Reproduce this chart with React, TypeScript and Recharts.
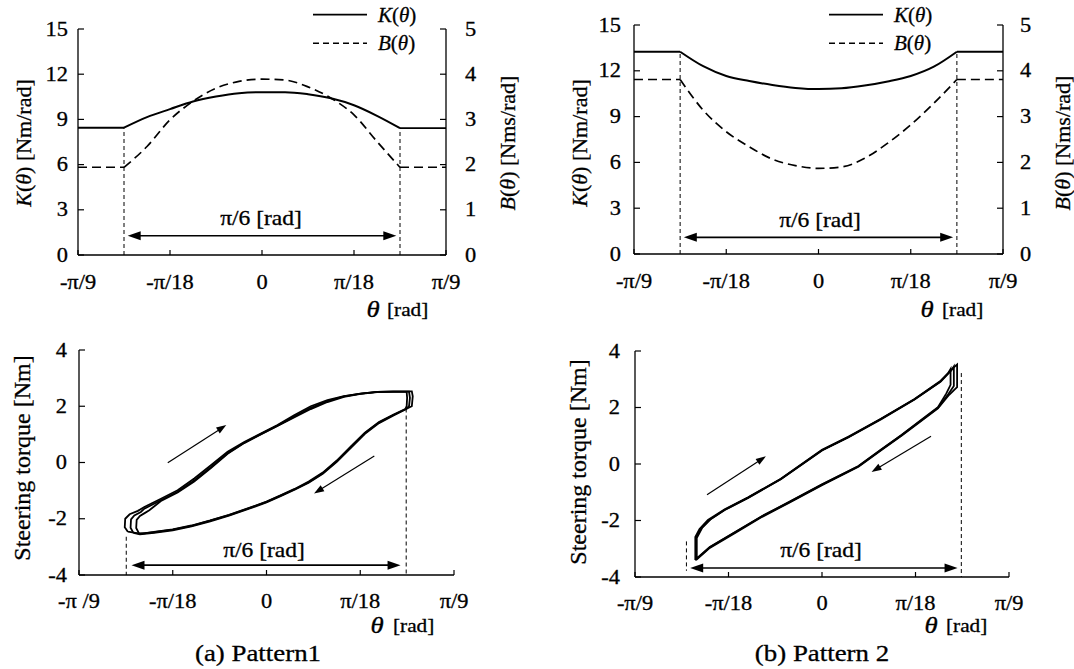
import React from "react";
import { ComposedChart, Line, XAxis, YAxis, ReferenceLine, Legend } from "recharts";

const FONT = "Liberation Serif, Times New Roman, Times, serif";
const SX = 1.12;

// axis ticks
const thetaTicks = [-20, -10, 0, 10, 20];
const thetaLabels = ["-π/9", "-π/18", "0", "π/18", "π/9"];
const thetaLabelsSpaced = ["-π /9", "-π/18", "0", "π/18", "π/9"];
const kTicks = [0, 3, 6, 9, 12, 15];
const bTicks = [0, 1, 2, 3, 4, 5];
const torqueTicks = [-4, -2, 0, 2, 4];

// K(theta), B(theta) inside the pi/6 window, theta in degrees (pi/9 = 20 deg)
const theta = [-15, -12.5, -10, -7.5, -5, -2.5, 0, 2.5, 5, 7.5, 10, 12.5, 15];
const kPattern1 = [8.45, 9.15, 9.68, 10.19, 10.52, 10.74, 10.81, 10.81, 10.67, 10.4, 9.94, 9.24, 8.42];
const bPattern1 = [1.94, 2.4, 2.99, 3.4, 3.69, 3.84, 3.89, 3.87, 3.72, 3.47, 3.1, 2.51, 1.94];
const kPattern2 = [13.25, 12.3, 11.66, 11.33, 11.07, 10.88, 10.8, 10.85, 11.03, 11.3, 11.66, 12.27, 13.25];
const bPattern2 = [3.81, 3.14, 2.67, 2.34, 2.07, 1.93, 1.87, 1.9, 2.09, 2.42, 2.82, 3.29, 3.81];
// constant values outside the window
const outerTheta = [-20, 20];

// hysteresis loops [theta deg, torque Nm]
const p1LoopA: [number, number][] = [
  [-14.79, -2.46], [-15.12, -2.3], [-15.07, -2.0], [-14.6, -1.84], [-13.72, -1.72], [-13.03, -1.58],
  [-11.26, -1.29], [-9.48, -0.99], [-7.71, -0.57], [-5.93, -0.1], [-4.15, 0.38], [-2.38, 0.73],
  [-0.61, 1.03], [1.17, 1.33], [2.94, 1.68], [4.72, 2.0], [6.5, 2.22], [8.26, 2.36], [10.04, 2.45],
  [11.8, 2.51], [13.5, 2.53], [15.5, 2.53], [15.6, 2.35], [15.5, 2.0], [15.0, 1.92], [13.5, 1.68],
  [12, 1.42], [10.5, 1.05], [9, 0.55], [7.5, 0.05], [6, -0.38], [4.5, -0.7], [3, -0.95], [1.5, -1.18],
  [0, -1.4], [-2, -1.64], [-4, -1.87], [-6, -2.07], [-8, -2.25], [-10, -2.39], [-12, -2.48],
  [-13.5, -2.53], [-14.79, -2.46],
];
const p1LoopB: [number, number][] = [
  [-14.2, -2.5], [-14.5, -2.32], [-14.45, -2.02], [-14.1, -1.88], [-13.4, -1.76], [-13.03, -1.64],
  [-11.26, -1.34], [-9.48, -1.04], [-7.71, -0.64], [-5.93, -0.17], [-4.15, 0.33], [-2.38, 0.7],
  [-0.61, 1.01], [1.17, 1.31], [2.94, 1.63], [4.72, 1.94], [6.5, 2.18], [8.26, 2.35], [10.04, 2.45],
  [11.8, 2.51], [13.5, 2.52], [15.2, 2.52], [15.3, 2.3], [15.2, 2.0], [14.9, 1.9], [13.5, 1.66],
  [12, 1.4], [10.5, 1.02], [9, 0.52], [7.5, 0.02], [6, -0.4], [4.5, -0.72], [3, -0.97], [1.5, -1.2],
  [0, -1.42], [-2, -1.66], [-4, -1.89], [-6, -2.09], [-8, -2.27], [-10, -2.41], [-12, -2.5],
  [-13.5, -2.55], [-14.2, -2.5],
];
const p1LoopC: [number, number][] = [
  [-13.6, -2.52], [-13.9, -2.33], [-13.85, -2.04], [-13.5, -1.9], [-13.0, -1.8], [-12.5, -1.7],
  [-11.26, -1.37], [-9.48, -1.07], [-7.71, -0.68], [-5.93, -0.2], [-4.15, 0.31], [-2.38, 0.69],
  [-0.61, 1.0], [1.17, 1.3], [2.94, 1.6], [4.72, 1.9], [6.5, 2.15], [8.26, 2.33], [10.04, 2.44],
  [11.8, 2.5], [13.5, 2.51], [14.95, 2.51], [15.0, 2.3], [14.95, 2.0], [14.8, 1.9], [13.5, 1.7],
  [12, 1.44], [10.5, 1.06], [9, 0.57], [7.5, 0.07], [6, -0.36], [4.5, -0.68], [3, -0.94], [1.5, -1.17],
  [0, -1.39], [-2, -1.63], [-4, -1.86], [-6, -2.06], [-8, -2.24], [-10, -2.38], [-12, -2.47],
  [-13.0, -2.52], [-13.6, -2.52],
];

const p2LoopA: [number, number][] = [
  [-13.55, -3.4], [-13.55, -2.58], [-13.1, -2.3], [-12.2, -1.98], [-10.4, -1.6], [-7.9, -1.18],
  [-4.4, -0.52], [0, 0.5], [2.8, 0.96], [6.3, 1.6], [9.9, 2.3], [12.7, 2.95], [14.1, 3.42],
  [14.45, 3.52], [14.45, 2.72], [13.6, 2.45], [12.4, 1.97], [10.6, 1.52], [8.5, 1.0], [6.4, 0.5],
  [3.9, -0.1], [0, -0.75], [-3.5, -1.37], [-6.4, -1.87], [-9.2, -2.42], [-12, -2.97], [-13.4, -3.38],
  [-13.55, -3.4],
];
const p2LoopB: [number, number][] = [
  [-13.45, -3.36], [-13.45, -2.6], [-12.9, -2.27], [-12.0, -1.97], [-10.4, -1.63], [-7.9, -1.2],
  [-4.4, -0.54], [0, 0.48], [2.8, 0.94], [6.3, 1.58], [9.9, 2.28], [12.7, 2.92], [13.8, 3.3],
  [14.1, 3.45], [14.1, 2.76], [13.5, 2.47], [12.4, 1.99], [10.6, 1.54], [8.5, 1.02], [6.4, 0.52],
  [3.9, -0.08], [0, -0.73], [-3.5, -1.35], [-6.4, -1.85], [-9.2, -2.4], [-12, -2.95], [-13.3, -3.33],
  [-13.45, -3.36],
];
const p2LoopC: [number, number][] = [
  [-13.4, -3.34], [-13.4, -2.62], [-12.8, -2.25], [-11.9, -1.95], [-10.4, -1.62], [-7.9, -1.19],
  [-4.4, -0.53], [0, 0.49], [2.8, 0.95], [6.3, 1.59], [9.9, 2.29], [12.6, 2.9], [13.5, 3.22],
  [13.75, 3.36], [13.75, 2.8], [13.3, 2.5], [12.4, 2.01], [10.6, 1.56], [8.5, 1.03], [6.4, 0.53],
  [3.9, -0.07], [0, -0.72], [-3.5, -1.34], [-6.4, -1.84], [-9.2, -2.39], [-12, -2.94], [-13.25, -3.3],
  [-13.4, -3.34],
];

const rowsOf = (k: number[], b: number[]) => theta.map((x, i) => ({ x, k: k[i], b: b[i] }));
const ptsOf = (loop: [number, number][]) => loop.map(([x, y]) => ({ x, y }));
const flat = (x0: number, x1: number, y: number) => [{ x: x0, y }, { x: x1, y }];

const ink = { fill: "#000", stroke: "#000", strokeWidth: 0.3 };

function AxisTick(props: any) {
  const { x, y, payload, side, gap, labels, ticks } = props;
  const idx = ticks.indexOf(payload.value);
  const label = labels ? labels[idx] : String(payload.value);
  let lx1 = x, ly1 = y, lx2 = x, ly2 = y, anchor = "middle";
  if (side === "left") {
    lx1 = x + gap; lx2 = lx1 + 6; anchor = "end";
  } else if (side === "right") {
    lx1 = x - gap; lx2 = lx1 - 6; anchor = "start";
  } else {
    ly1 = y - gap; ly2 = ly1 - 5;
  }
  return (
    <g>
      <line x1={lx1} y1={ly1} x2={lx2} y2={ly2} stroke="#000" strokeWidth={1.2} />
      <text transform={`translate(${x},${y}) scale(${SX},1)`} textAnchor={anchor} dominantBaseline="central"
        style={{ fontFamily: FONT, fontSize: 20 }} {...ink}>{label}</text>
    </g>
  );
}

const arrowShape = (double: boolean, len: number, half: number, w: number) => (p: any) => {
  const { x1, y1, x2, y2 } = p;
  const dx = x2 - x1, dy = y2 - y1;
  const L = Math.hypot(dx, dy) || 1;
  const ux = dx / L, uy = dy / L;
  const head = (tx: number, ty: number, sx: number, sy: number) => {
    const bx = tx - sx * len, by = ty - sy * len;
    return `${tx},${ty} ${bx - sy * half},${by + sx * half} ${bx + sy * half},${by - sx * half}`;
  };
  return (
    <g>
      <line x1={double ? x1 + ux * len * 0.7 : x1} y1={double ? y1 + uy * len * 0.7 : y1}
        x2={x2 - ux * len * 0.7} y2={y2 - uy * len * 0.7} stroke="#000" strokeWidth={w} />
      <polygon points={head(x2, y2, ux, uy)} fill="#000" />
      {double && <polygon points={head(x1, y1, -ux, -uy)} fill="#000" />}
    </g>
  );
};

const legendContent = () => (
  <svg width={130} height={58} style={{ display: "block" }}>
    <line x1={0} y1={14.7} x2={54} y2={14.7} stroke="#000" strokeWidth={1.8} />
    <text x={65} y={14.7} dominantBaseline="central" style={{ fontFamily: FONT, fontSize: 21 }} {...ink}>
      <tspan fontStyle="italic">K</tspan>(<tspan fontStyle="italic">θ</tspan>)
    </text>
    <line x1={0} y1={43.3} x2={54} y2={43.3} stroke="#000" strokeWidth={1.5} strokeDasharray="6 4" />
    <text x={65} y={43.3} dominantBaseline="central" style={{ fontFamily: FONT, fontSize: 21 }} {...ink}>
      <tspan fontStyle="italic">B</tspan>(<tspan fontStyle="italic">θ</tspan>)
    </text>
  </svg>
);

type GainProps = {
  k: number[]; b: number[]; margin: any; legendLeft: number; leftGap: number; rightGap: number;
  spanY: number;
};

function GainChart({ k, b, margin, legendLeft, leftGap, rightGap, spanY }: GainProps) {
  const kL = k[0], kR = k[k.length - 1], bL = b[0], bR = b[b.length - 1];
  return (
    <ComposedChart width={537} height={320} data={rowsOf(k, b)} margin={margin}>
      <XAxis dataKey="x" type="number" domain={[-20, 20]} ticks={thetaTicks} interval={0} height={30}
        tickSize={0} tickMargin={27} axisLine={{ stroke: "#000", strokeWidth: 1.3 }} tickLine={false}
        tick={<AxisTick side="bottom" gap={27} labels={thetaLabels} ticks={thetaTicks} />} />
      <YAxis yAxisId="k" domain={[0, 15]} ticks={kTicks} interval={0} width={60} tickSize={0}
        tickMargin={leftGap} axisLine={{ stroke: "#000", strokeWidth: 1.3 }} tickLine={false}
        tick={<AxisTick side="left" gap={leftGap} ticks={kTicks} />} />
      <YAxis yAxisId="b" orientation="right" domain={[0, 5]} ticks={bTicks} interval={0} width={60}
        tickSize={0} tickMargin={rightGap} axisLine={{ stroke: "#000", strokeWidth: 1.3 }} tickLine={false}
        tick={<AxisTick side="right" gap={rightGap} ticks={bTicks} />} />
      <Legend layout="horizontal" align="center" verticalAlign="middle" content={legendContent}
        wrapperStyle={{ position: "absolute", left: legendLeft, top: 0, width: 130, height: 58 }} />
      <ReferenceLine yAxisId="k" segment={[{ x: -15, y: 0 }, { x: -15, y: kL }]} stroke="#000"
        strokeWidth={1} strokeDasharray="4 3" />
      <ReferenceLine yAxisId="k" segment={[{ x: 15, y: 0 }, { x: 15, y: kR }]} stroke="#000"
        strokeWidth={1} strokeDasharray="4 3" />
      <ReferenceLine yAxisId="k" segment={[{ x: -14.6, y: spanY }, { x: 14.6, y: spanY }]}
        shape={arrowShape(true, 13, 4.5, 1.6)} />
      <Line yAxisId="k" type="monotone" dataKey="k" stroke="#000" strokeWidth={2} dot={false}
        activeDot={false} isAnimationActive={false} />
      <Line yAxisId="k" data={flat(outerTheta[0], -15, kL)} type="linear" dataKey="y" stroke="#000"
        strokeWidth={1.9} dot={false} activeDot={false} isAnimationActive={false} />
      <Line yAxisId="k" data={flat(15, outerTheta[1], kR)} type="linear" dataKey="y" stroke="#000"
        strokeWidth={1.9} dot={false} activeDot={false} isAnimationActive={false} />
      <Line yAxisId="b" type="monotone" dataKey="b" stroke="#000" strokeWidth={1.7} strokeDasharray="9 5"
        dot={false} activeDot={false} isAnimationActive={false} />
      <Line yAxisId="b" data={flat(outerTheta[0], -15, bL)} type="linear" dataKey="y" stroke="#000"
        strokeWidth={1.6} strokeDasharray="9 5" dot={false} activeDot={false} isAnimationActive={false} />
      <Line yAxisId="b" data={flat(15, outerTheta[1], bR)} type="linear" dataKey="y" stroke="#000"
        strokeWidth={1.6} strokeDasharray="9 5" dot={false} activeDot={false} isAnimationActive={false} />
    </ComposedChart>
  );
}

type LoopProps = {
  loops: [number, number][][]; margin: any; leftGap: number; labels: string[];
  dashL: [number, number, number]; dashR: [number, number, number]; spanY: number; span: [number, number];
  up: [number, number, number, number]; down: [number, number, number, number];
};

function LoopChart({ loops, margin, leftGap, labels, dashL, dashR, spanY, span, up, down }: LoopProps) {
  return (
    <ComposedChart width={537} height={339} margin={margin}>
      <XAxis dataKey="x" type="number" domain={[-20, 20]} ticks={thetaTicks} interval={0} height={30}
        tickSize={0} tickMargin={26} axisLine={{ stroke: "#000", strokeWidth: 1.3 }} tickLine={false}
        tick={<AxisTick side="bottom" gap={26} labels={labels} ticks={thetaTicks} />} />
      <YAxis domain={[-4, 4]} ticks={torqueTicks} interval={0} width={60} tickSize={0} tickMargin={leftGap}
        axisLine={{ stroke: "#000", strokeWidth: 1.3 }} tickLine={false}
        tick={<AxisTick side="left" gap={leftGap} ticks={torqueTicks} />} />
      <ReferenceLine segment={[{ x: dashL[0], y: dashL[1] }, { x: dashL[0], y: dashL[2] }]} stroke="#000"
        strokeWidth={1} strokeDasharray="4 3" />
      <ReferenceLine segment={[{ x: dashR[0], y: dashR[1] }, { x: dashR[0], y: dashR[2] }]} stroke="#000"
        strokeWidth={1} strokeDasharray="4 3" />
      <ReferenceLine segment={[{ x: span[0], y: spanY }, { x: span[1], y: spanY }]}
        shape={arrowShape(true, 13, 4.5, 1.6)} />
      <ReferenceLine segment={[{ x: up[0], y: up[1] }, { x: up[2], y: up[3] }]}
        shape={arrowShape(false, 10, 3.5, 1.2)} />
      <ReferenceLine segment={[{ x: down[0], y: down[1] }, { x: down[2], y: down[3] }]}
        shape={arrowShape(false, 10, 3.5, 1.2)} />
      {loops.map((loop, i) => (
        <Line key={i} data={ptsOf(loop)} type="linear" dataKey="y" stroke="#000" strokeWidth={1.8}
          dot={false} activeDot={false} isAnimationActive={false} />
      ))}
    </ComposedChart>
  );
}

function T({ x, y, size, children, rotate, anchor = "middle", stretch = true }: any) {
  const tr = rotate
    ? `translate(${x},${y}) rotate(-90)`
    : `translate(${x},${y}) scale(${stretch ? SX : 1},1)`;
  return (
    <text transform={tr} textAnchor={anchor} dominantBaseline="central" style={{ fontFamily: FONT, fontSize: size }}
      {...ink}>{children}</text>
  );
}

export default function App() {
  return (
    <div style={{ position: "absolute", left: 0, top: 0, width: 1074, height: 669, background: "#fff", fontFamily: FONT }}>
      <div style={{ position: "absolute", left: 0, top: 0 }}>
        <GainChart k={kPattern1} b={bPattern1} margin={{ top: 29, right: 31, bottom: 35, left: 18 }}
          legendLeft={313} leftGap={10} rightGap={19} spanY={1.28} />
      </div>
      <div style={{ position: "absolute", left: 537, top: 0 }}>
        <GainChart k={kPattern2} b={bPattern2} margin={{ top: 25, right: 11, bottom: 36, left: 37 }}
          legendLeft={292} leftGap={13} rightGap={17} spanY={1.09} />
      </div>
      <div style={{ position: "absolute", left: 0, top: 330 }}>
        <LoopChart loops={[p1LoopA, p1LoopB, p1LoopC]} margin={{ top: 20, right: 83, bottom: 64, left: 19 }}
          leftGap={12} labels={thetaLabelsSpaced} dashL={[-14.96, -2.64, -4]} dashR={[14.9, 1.92, -4]}
          spanY={-3.65} span={[-14.4, 14.3]} up={[-10.53, -0.01, -4.29, 1.33]} down={[11.5, 0.23, 5.07, -1.1]} />
      </div>
      <div style={{ position: "absolute", left: 537, top: 330 }}>
        <LoopChart loops={[p2LoopA, p2LoopB, p2LoopC]} margin={{ top: 21, right: 65, bottom: 62, left: 38 }}
          leftGap={15} labels={thetaLabels} dashL={[-14.5, -2.74, -3.78]} dashR={[14.9, 3.22, -4]}
          spanY={-3.68} span={[-14.1, 14.5]} up={[-12.3, -1.09, -6.0, 0.27]} down={[11.66, 0.98, 5.3, -0.28]} />
      </div>
      <svg width={1074} height={669} style={{ position: "absolute", left: 0, top: 0, pointerEvents: "none" }}>
        <T x={23} y={143} size={22} rotate>
          <tspan fontStyle="italic">K</tspan>(<tspan fontStyle="italic">θ</tspan>) [Nm/rad]
        </T>
        <T x={507} y={143} size={22} rotate>
          <tspan fontStyle="italic">B</tspan>(<tspan fontStyle="italic">θ</tspan>) [Nms/rad]
        </T>
        <T x={579} y={143} size={22} rotate>
          <tspan fontStyle="italic">K</tspan>(<tspan fontStyle="italic">θ</tspan>) [Nm/rad]
        </T>
        <T x={1062} y={143} size={22} rotate>
          <tspan fontStyle="italic">B</tspan>(<tspan fontStyle="italic">θ</tspan>) [Nms/rad]
        </T>
        <T x={22} y={458} size={24} rotate>Steering torque [Nm]</T>
        <T x={578} y={462} size={24} rotate>Steering torque [Nm]</T>

        <T x={261} y={218} size={21}>π/6 [rad]</T>
        <T x={820} y={220} size={21}>π/6 [rad]</T>
        <T x={264} y={550} size={21}>π/6 [rad]</T>
        <T x={821} y={550} size={21}>π/6 [rad]</T>

        <T x={373} y={309} size={24}><tspan fontStyle="italic">θ</tspan></T>
        <T x={387} y={309} size={19} anchor="start">[rad]</T>
        <T x={927} y={309} size={24}><tspan fontStyle="italic">θ</tspan></T>
        <T x={942} y={309} size={19} anchor="start">[rad]</T>
        <T x={377} y={625} size={24}><tspan fontStyle="italic">θ</tspan></T>
        <T x={393} y={625} size={19} anchor="start">[rad]</T>
        <T x={931} y={625} size={24}><tspan fontStyle="italic">θ</tspan></T>
        <T x={946} y={625} size={19} anchor="start">[rad]</T>

        <T x={258} y={653} size={24}>(a) Pattern1</T>
        <T x={822} y={653} size={24}>(b) Pattern 2</T>
      </svg>
    </div>
  );
}
